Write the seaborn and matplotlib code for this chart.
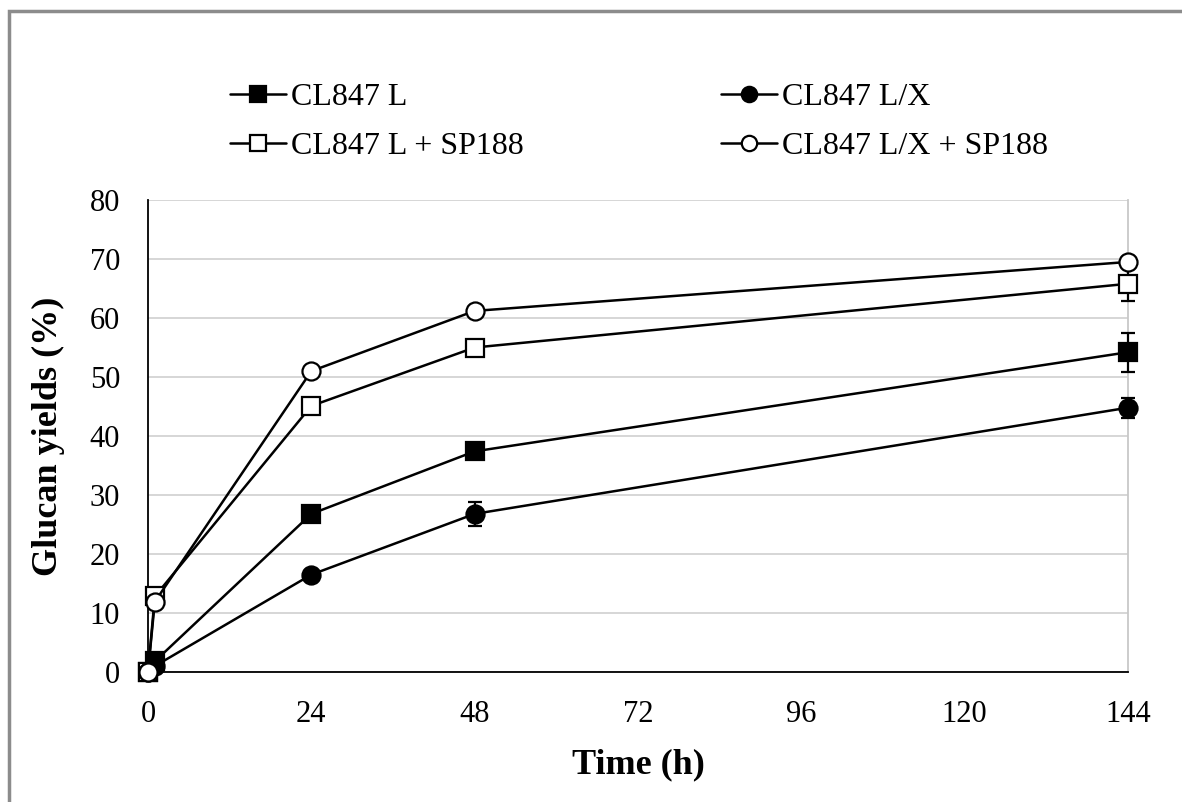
import numpy as np
import pandas as pd
import matplotlib
matplotlib.use('Agg')
import matplotlib.pyplot as plt
import seaborn as sns
from matplotlib.patches import Rectangle

# data
time_h = [0, 1, 24, 48, 144]
series_names = ["CL847 L", "CL847 L + SP188", "CL847 L/X", "CL847 L/X + SP188"]
cl847_l = [0, 1.8, 26.8, 37.4, 54.2]
cl847_l_sp = [0, 12.8, 45.1, 55.0, 65.8]
cl847_lx = [0, 1.0, 16.5, 26.8, 44.8]
cl847_lx_sp = [0, 11.9, 51.0, 61.2, 69.5]
err_l = [0, 0.5, 0.8, 1.0, 3.3]
err_l_sp = [0, 0.5, 0.6, 0.6, 3.0]
err_lx = [0, 0.3, 0.8, 2.0, 1.7]
err_lx_sp = [0, 0.3, 0.5, 0.5, 0.8]
x_ticks = [0, 24, 48, 72, 96, 120, 144]
y_ticks = [0, 10, 20, 30, 40, 50, 60, 70, 80]

values = [cl847_l, cl847_l_sp, cl847_lx, cl847_lx_sp]
errors = [err_l, err_l_sp, err_lx, err_lx_sp]
markers = ["s", "s", "o", "o"]
faces = ["black", "white", "black", "white"]

df = pd.DataFrame({
    "time": time_h * 4,
    "yield": sum(values, []),
    "err": sum(errors, []),
    "series": sum([[n] * len(time_h) for n in series_names], []),
})

sns.set_theme(style="white")
plt.rcParams['font.family'] = ['Liberation Serif', 'DejaVu Serif']
plt.rcParams['text.color'] = 'black'
plt.rcParams['axes.labelcolor'] = 'black'
plt.rcParams['xtick.color'] = 'black'
plt.rcParams['ytick.color'] = 'black'

fig = plt.figure(figsize=(11.82, 8.02), dpi=100)
ax = fig.add_axes([148 / 1182, 130 / 802, 980 / 1182, 472 / 802])

for name, m, fc in zip(series_names, markers, faces):
    sub = df[df.series == name]
    ax.errorbar(sub["time"], sub["yield"], yerr=sub["err"], fmt="none",
                ecolor="black", elinewidth=1.6, capsize=5, capthick=1.6,
                zorder=3, clip_on=False)
    sns.lineplot(data=sub, x="time", y="yield", ax=ax, color="black",
                 marker=m, markersize=13, markerfacecolor=fc,
                 markeredgecolor="black", markeredgewidth=1.6,
                 linewidth=1.8, label=name, zorder=4, clip_on=False)

ax.set_xlim(0, 144)
ax.set_ylim(0, 80)
ax.set_xticks(x_ticks)
ax.set_yticks(y_ticks)
ax.yaxis.grid(True, color="#d0d0d0", linewidth=1.2)
ax.set_axisbelow(True)
ax.tick_params(axis="x", direction="in", length=6, width=1, color="black",
               labelsize=22, pad=20)
ax.tick_params(axis="y", length=0, labelsize=22, pad=20)

for s in ["left", "bottom"]:
    ax.spines[s].set_color("black")
    ax.spines[s].set_linewidth(1.3)
ax.spines["top"].set_visible(False)
ax.spines["right"].set_color("#c8c8c8")
ax.spines["right"].set_linewidth(1.3)

ax.set_xlabel("Time (h)", fontsize=26, fontweight="bold", labelpad=14)
ax.set_ylabel("Glucan yields (%)", fontsize=26, fontweight="bold", labelpad=18)

handles, labels = ax.get_legend_handles_labels()
ax.get_legend().remove()
fig.legend(handles, labels, ncol=2, loc="upper left",
           bbox_to_anchor=(214 / 1182, 1 - 67 / 802), frameon=False,
           fontsize=23, markerscale=0.85, handlelength=1.75,
           handletextpad=0.15, columnspacing=6.2, labelspacing=0.6,
           borderpad=0)

fig.patches.append(Rectangle((9 / 1182, -0.05), 1.2, 1 - 11 / 802 + 0.05,
                             transform=fig.transFigure, fill=False,
                             edgecolor="#8c8c8c", linewidth=2.5))

fig.savefig("out.png", dpi=100)
plt.close(fig)
